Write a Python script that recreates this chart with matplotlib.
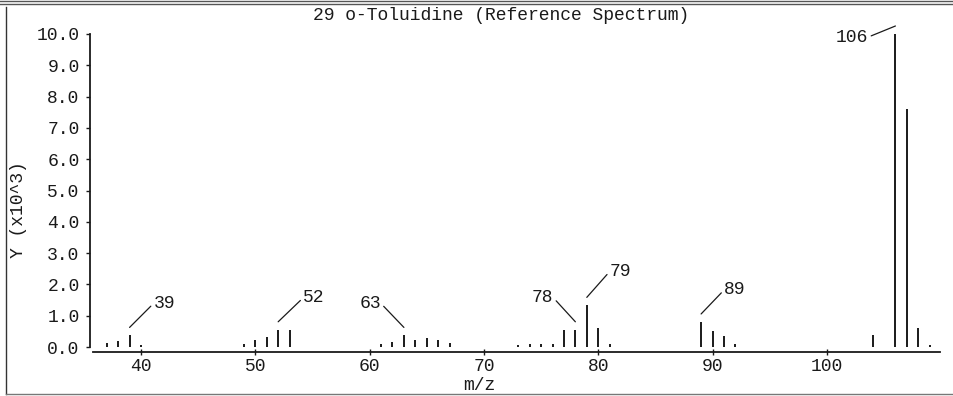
import matplotlib.pyplot as plt
from matplotlib.lines import Line2D
from matplotlib.transforms import offset_copy

W, H = 954, 396

# peaks (m/z, intensity in units of 10^3)
mz = [37, 38, 39, 40, 49, 50, 51, 52, 53, 61, 62, 63, 64, 65, 66, 67,
      73, 74, 75, 76, 77, 78, 79, 80, 81, 89, 90, 91, 92, 104, 106, 107, 108, 109]
intensity = [0.13, 0.19, 0.37, 0.05, 0.10, 0.21, 0.33, 0.55, 0.55,
             0.10, 0.16, 0.37, 0.21, 0.30, 0.21, 0.13,
             0.05, 0.10, 0.10, 0.10, 0.55, 0.55, 1.33, 0.61, 0.08,
             0.80, 0.50, 0.35, 0.08, 0.37, 10.0, 7.60, 0.61, 0.05]

labeled = [39, 52, 63, 78, 79, 89, 106]
# label text offsets in pixels from a point 8px above the peak
label_dx = [24, 25, -23, -22, 23, 23, -27]
label_dy = [24, 24, 24, 24, 26, 24, -11]

x_ticks = [40, 50, 60, 70, 80, 90, 100]
y_ticks = [0, 1, 2, 3, 4, 5, 6, 7, 8, 9, 10]

title = "29 o-Toluidine (Reference Spectrum)"
font = 'Liberation Mono'
fs = 13
ink = '#1a1a1a'

plt.rcParams['font.family'] = font
plt.rcParams['font.size'] = fs

fig = plt.figure(figsize=(W / 100, H / 100), dpi=100)
fig.patch.set_facecolor('white')


def fx(x):
    return x / W


def fy(y):
    return 1 - y / H


ax = fig.add_axes([fx(93), fy(347), fx(940) - fx(93), fy(34) - fy(347)])
ax.vlines(mz, 0, intensity, colors=ink, lw=1.4)
ax.set_xlim(35.8, 109.9)
ax.set_ylim(0, 10)

for s in ['top', 'right']:
    ax.spines[s].set_visible(False)
ax.spines['left'].set_position(('outward', 2.2))
ax.spines['left'].set_bounds(0, 10)
ax.spines['bottom'].set_position(('outward', 3.8))
for s in ['left', 'bottom']:
    ax.spines[s].set_color(ink)
    ax.spines[s].set_linewidth(1.3)

ax.set_xticks(x_ticks)
ax.set_xticklabels([str(t) for t in x_ticks])
ax.set_yticks(y_ticks)
ax.set_yticklabels([f"{t:.1f}" for t in y_ticks])
ax.tick_params(axis='x', direction='inout', length=5, width=1, colors=ink, pad=1.5)
ax.tick_params(axis='y', direction='out', length=3, width=1, colors=ink, pad=4.5)

above = offset_copy(ax.transData, fig=fig, x=0, y=8, units='dots')
for m, dx, dy in zip(labeled, label_dx, label_dy):
    h = intensity[mz.index(m)]
    side = 0 if dx > 0 else 1
    ax.annotate(str(m), xy=(m, h), xycoords=above, xytext=(dx, dy),
                textcoords='offset pixels', ha='left' if dx > 0 else 'right',
                va='center', color=ink, annotation_clip=False,
                arrowprops=dict(arrowstyle='-', lw=0.9, color=ink,
                                shrinkA=0, shrinkB=0, relpos=(side, 0.5)))

fig.text(fx(501), fy(15), title, ha='center', va='center', color=ink)
fig.text(fx(19), fy(210), "Y (x10^3)", rotation=90, ha='center', va='center', color=ink)
fig.text(fx(479), fy(386), "m/z", ha='center', va='center', color=ink)

# outer frame
fig.add_artist(Line2D([0, 1], [fy(0.5), fy(0.5)], transform=fig.transFigure, color='#555', lw=1))
fig.add_artist(Line2D([0, 1], [fy(3.5), fy(3.5)], transform=fig.transFigure, color='#555', lw=1))
fig.add_artist(Line2D([fx(6), fx(6)], [fy(7), fy(394)], transform=fig.transFigure, color='#333', lw=1))
fig.add_artist(Line2D([fx(6), 1], [fy(394), fy(394)], transform=fig.transFigure, color='#777', lw=1))

fig.savefig('out.png', dpi=100, facecolor='white')
